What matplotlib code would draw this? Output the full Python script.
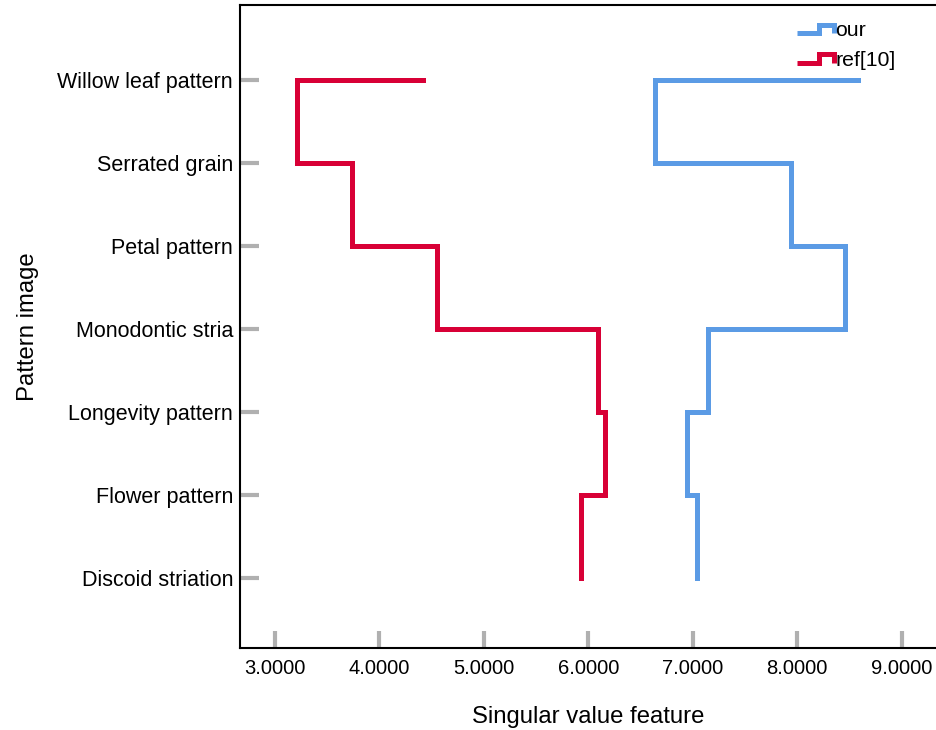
import matplotlib
matplotlib.use("Agg")
import matplotlib.pyplot as plt
from matplotlib.legend_handler import HandlerBase
from matplotlib.lines import Line2D
import numpy as np

categories = ["Willow leaf pattern", "Serrated grain", "Petal pattern", "Monodontic stria",
              "Longevity pattern", "Flower pattern", "Discoid striation"]
our = [8.58, 6.64, 7.94, 8.46, 7.15, 6.95, 7.04]
ref10 = [4.42, 3.21, 3.74, 4.55, 6.09, 6.16, 5.93]
xticks = [3, 4, 5, 6, 7, 8, 9]

plt.rcParams['font.family'] = ['Liberation Sans', 'DejaVu Sans']

BLUE = "#5B9BE5"
RED = "#D80036"


class StepHandler(HandlerBase):
    def create_artists(self, legend, orig_handle, xdescent, ydescent, width, height, fontsize, trans):
        x0 = -xdescent
        y0 = -ydescent
        xs = [x0, x0 + width * 0.6, x0 + width * 0.6, x0 + width, x0 + width]
        ys = [y0 + height * 0.2, y0 + height * 0.2, y0 + height * 0.75, y0 + height * 0.75, y0 + height * 0.2]
        ln = Line2D(xs, ys, color=orig_handle.get_color(), lw=orig_handle.get_linewidth(),
                    solid_joinstyle='miter', solid_capstyle='butt', transform=trans)
        return [ln]


fig = plt.figure(figsize=(9.36, 7.30), dpi=100)
ax = fig.add_axes([240 / 936, 1 - 648 / 730, 1 - 240 / 936, (648 - 5) / 730])

pos = np.arange(len(categories))
l1, = ax.plot(our, pos, drawstyle='steps-post', color=BLUE, lw=3.6,
              solid_joinstyle='miter', label='our')
l2, = ax.plot(ref10, pos, drawstyle='steps-post', color=RED, lw=3.6,
              solid_joinstyle='miter', label='ref[10]')

ax.set_xlim(2.665, 9.33)
ax.set_ylim(len(categories) - 1 + 0.84, -0.9)
ax.set_yticks(pos)
ax.set_yticklabels(categories, fontsize=15.5)
ax.set_xticks(xticks)
ax.set_xticklabels([f"{t:.4f}" for t in xticks], fontsize=14.5)
ax.tick_params(axis='both', direction='in', length=12, width=3, color='#b0b0b0', pad=8)
ax.tick_params(axis='y', length=14, pad=5)
for s in ['top', 'left', 'bottom']:
    ax.spines[s].set_linewidth(1.5)
    ax.spines[s].set_color('black')
ax.spines['right'].set_visible(False)

ax.set_xlabel("Singular value feature", fontsize=17.2, labelpad=20)
ax.set_ylabel("Pattern image", fontsize=17.2, labelpad=13)

leg = ax.legend(handles=[l1, l2], loc='upper left', bbox_to_anchor=(797 / 936, 1 - 21 / 730),
                bbox_transform=fig.transFigure,
                frameon=False, fontsize=15.3, handlelength=1.75, handletextpad=0.05,
                labelspacing=0.5, borderaxespad=0, borderpad=0,
                handler_map={Line2D: StepHandler()})

fig.savefig("out.png", dpi=100)
